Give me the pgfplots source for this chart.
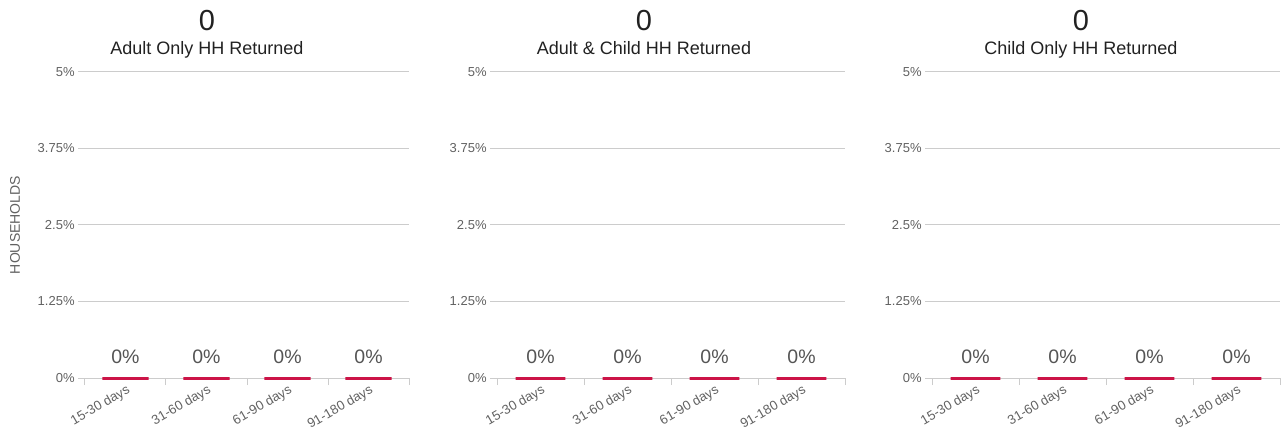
\documentclass[border=0pt]{standalone}
\usepackage{fontspec}
\setmainfont{Liberation Sans}
\usepackage{pgfplots}
\pgfplotsset{compat=1.18}
\definecolor{barred}{HTML}{CC1447}
\definecolor{gridgray}{HTML}{CCCCCC}
\definecolor{ticktext}{HTML}{616161}
\definecolor{valtext}{HTML}{555555}
\definecolor{titletext}{HTML}{212121}
\pgfplotsset{
  panel/.style={
    scale only axis,
    height=153pt,
    ymin=0, ymax=5,
    xmin=-0.5, xmax=3.5,
    clip=false,
    axis lines*=left,
    axis line style={draw=none},
    ymajorgrids,
    grid style={gridgray, line width=0.5pt},
    ytick={0,1.25,2.5,3.75,5},
    yticklabels={0\%,1.25\%,2.5\%,3.75\%,5\%},
    yticklabel style={font=\fontsize{6.5}{7.8}\selectfont, text=ticktext, inner sep=1.5pt},
    tick align=outside,
    major tick length=3.5pt,
    minor tick length=3.5pt,
    major y tick style={gridgray, line width=0.5pt},
    xtick={0,1,2,3},
    xticklabels={15-30 days,31-60 days,61-90 days,91-180 days},
    major x tick style={draw=none},
    minor xtick={-0.5,0.5,1.5,2.5,3.5},
    minor x tick style={gridgray, line width=0.5pt},
    xticklabel style={font=\fontsize{6.6}{7.8}\selectfont, text=ticktext, rotate=30, anchor=north east, inner sep=0.5pt, xshift=1pt, yshift=1pt},
    /pgf/number format/assume math mode=true,
    ybar,
    bar width=0.57,
    nodes near coords={\pgfmathprintnumber{\pgfplotspointmeta}\%},
    every node near coord/.append style={font=\fontsize{9.75}{11}\selectfont, text=valtext, anchor=base, yshift=7.5pt},
  }
}
\begin{document}
\begin{tikzpicture}
\useasboundingbox (0,0) rectangle (640.5pt,214.5pt);
% Panel 1
\begin{axis}[panel, width=162pt, at={(42.5pt,25.5pt)}, anchor=south west,
  ylabel={HOUSEHOLDS},
  ylabel style={font=\fontsize{7}{8}\selectfont, text=ticktext, at={(axis description cs:-0.216,0.5)}, anchor=center}]
\addplot[draw=barred, fill=barred, line width=1.5pt] coordinates {(0,0) (1,0) (2,0) (3,0)};
\end{axis}
% Panel 2
\begin{axis}[panel, width=174pt, at={(248.5pt,25.5pt)}, anchor=south west]
\addplot[draw=barred, fill=barred, line width=1.5pt] coordinates {(0,0) (1,0) (2,0) (3,0)};
\end{axis}
% Panel 3
\begin{axis}[panel, width=174pt, at={(466pt,25.5pt)}, anchor=south west]
\addplot[draw=barred, fill=barred, line width=1.5pt] coordinates {(0,0) (1,0) (2,0) (3,0)};
\end{axis}
% Titles
\node[anchor=base, text=titletext, font=\fontsize{14.5}{16}\selectfont, inner sep=0pt] at (103.5pt,199pt) {0};
\node[anchor=base, text=titletext, font=\fontsize{9}{10}\selectfont, inner sep=0pt] at (103.5pt,187pt) {Adult Only HH Returned};
\node[anchor=base, text=titletext, font=\fontsize{14.5}{16}\selectfont, inner sep=0pt] at (322pt,199pt) {0};
\node[anchor=base, text=titletext, font=\fontsize{9}{10}\selectfont, inner sep=0pt] at (322pt,187pt) {Adult \& Child HH Returned};
\node[anchor=base, text=titletext, font=\fontsize{14.5}{16}\selectfont, inner sep=0pt] at (540.5pt,199pt) {0};
\node[anchor=base, text=titletext, font=\fontsize{9}{10}\selectfont, inner sep=0pt] at (540.5pt,187pt) {Child Only HH Returned};
\end{tikzpicture}
\end{document}
